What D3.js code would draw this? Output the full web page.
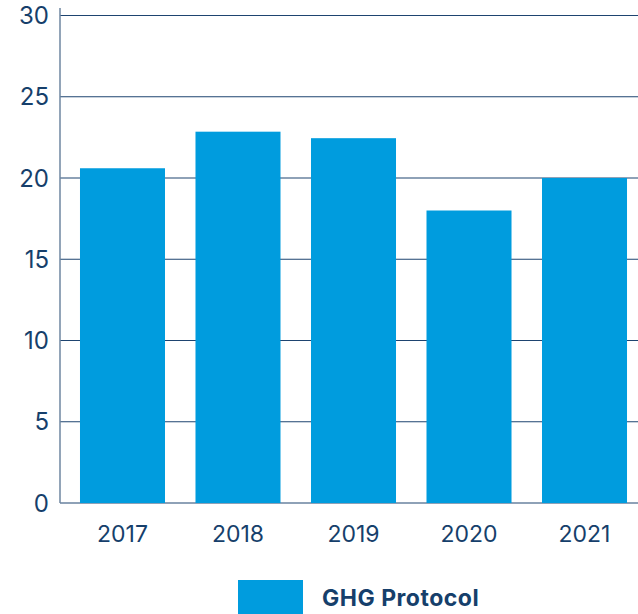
<!DOCTYPE html>
<html>
<head>
<meta charset="utf-8">
<script src="https://cdn.jsdelivr.net/npm/d3@7"></script>
<style>
  html, body { margin: 0; padding: 0; background: #fff; }
  svg { display: block; }
</style>
</head>
<body>
<div id="chart"></div>
<script>
const categories = ["2017", "2018", "2019", "2020", "2021"];
const values = [20.6, 22.85, 22.45, 18.0, 20.0];
const yTicks = [0, 5, 10, 15, 20, 25, 30];
const seriesName = "GHG Protocol";

const W = 638, H = 614;
const barColor = "#009CDE";
const textColor = "#163F6B";
const gridColor = "#1E4470";
const axisColor = "#6E86A0";
const font = "Inter, Lato, sans-serif";

const svg = d3.select("#chart").append("svg").attr("width", W).attr("height", H);

const x = d3.scaleBand().domain(categories).range([60, 647]).paddingInner(0.264).paddingOuter(0.173);
const y = d3.scaleLinear().domain([0, 30]).range([503, 15.5]);

// gridlines
svg.append("g").selectAll("line").data(yTicks).join("line")
  .attr("x1", 60).attr("x2", W)
  .attr("y1", d => y(d)).attr("y2", d => y(d))
  .attr("stroke", gridColor).attr("stroke-width", 1.2);

// y-axis labels
svg.append("g").selectAll("text").data(yTicks).join("text")
  .attr("x", 49).attr("y", d => y(d) + 8.5)
  .attr("text-anchor", "end")
  .attr("font-family", font).attr("font-size", 24)
  .attr("fill", textColor)
  .text(d => d);

// bars
svg.append("g").selectAll("rect").data(categories).join("rect")
  .attr("x", d => x(d))
  .attr("width", x.bandwidth())
  .attr("y", (d, i) => y(values[i]))
  .attr("height", (d, i) => y(0) - y(values[i]))
  .attr("fill", barColor);

// left axis line
svg.append("line")
  .attr("x1", 60).attr("x2", 60).attr("y1", 8).attr("y2", y(0))
  .attr("stroke", axisColor).attr("stroke-width", 1.5);

// x labels
svg.append("g").selectAll("text").data(categories).join("text")
  .attr("x", d => x(d) + x.bandwidth() / 2)
  .attr("y", 542)
  .attr("text-anchor", "middle")
  .attr("font-family", font).attr("font-size", 23)
  .attr("fill", textColor)
  .text(d => d);

// legend
svg.append("rect").attr("x", 238).attr("y", 580).attr("width", 65).attr("height", 34).attr("fill", barColor);
svg.append("text").attr("x", 322).attr("y", 606)
  .attr("font-family", font).attr("font-size", 23).attr("font-weight", "bold")
  .attr("letter-spacing", 0.5)
  .attr("fill", textColor).text(seriesName);
</script>
</body>
</html>
